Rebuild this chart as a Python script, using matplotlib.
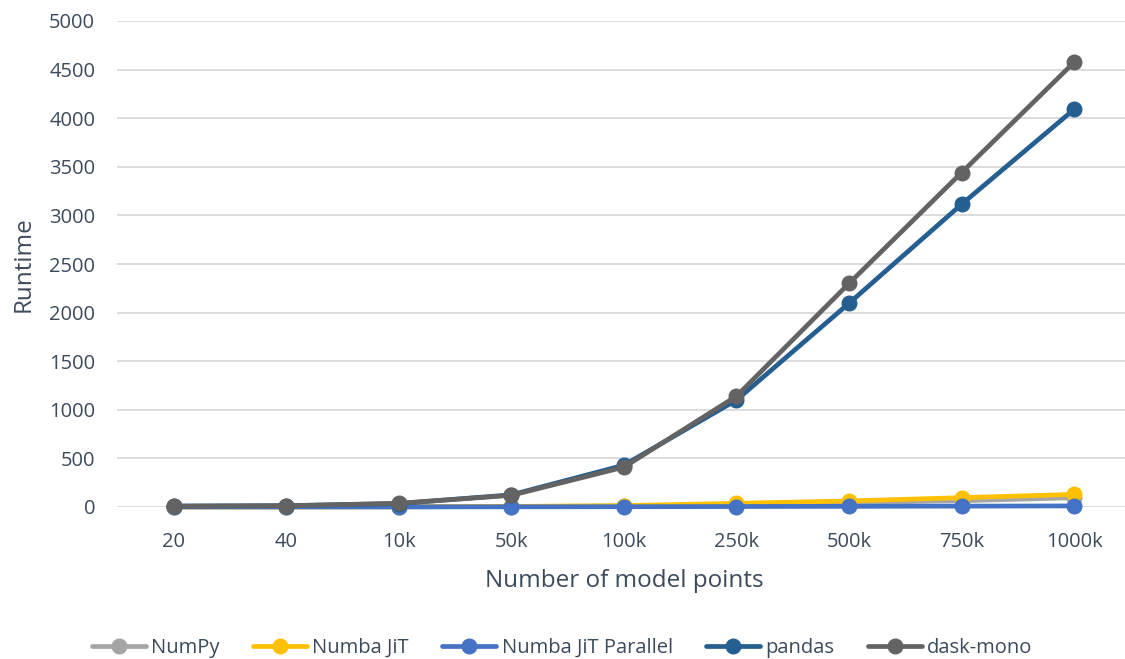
import matplotlib
matplotlib.use("Agg")
import matplotlib.pyplot as plt

categories = ["20", "40", "10k", "50k", "100k", "250k", "500k", "750k", "1000k"]
numpy_rt = [1, 1, 2, 5, 10, 25, 45, 65, 95]
numba_jit = [1, 1, 2, 6, 14, 38, 62, 96, 130]
numba_par = [1, 1, 1, 2, 3, 5, 7, 9, 11]
pandas_rt = [10, 14, 35, 125, 430, 1100, 2096, 3114, 4091]
dask_mono = [8, 12, 38, 120, 410, 1140, 2300, 3440, 4575]

series = [
    ("NumPy", numpy_rt, "#A5A5A5"),
    ("Numba JiT", numba_jit, "#FFC000"),
    ("Numba JiT Parallel", numba_par, "#4472C4"),
    ("pandas", pandas_rt, "#255E91"),
    ("dask-mono", dask_mono, "#636363"),
]

text_color = "#3C4A5C"
W, H = 1125, 659
fig = plt.figure(figsize=(W / 100, H / 100), dpi=100)
left_px, right_px, top_px, bottom_px = 117.4, 1130.4, 21, 507
ax = fig.add_axes([left_px / W, 1 - bottom_px / H,
                   (right_px - left_px) / W, (bottom_px - top_px) / H])

x = list(range(len(categories)))
for name, vals, color in series:
    ax.plot(x, vals, color=color, lw=3.4, marker="o", ms=10.5,
            label=name, solid_capstyle="round", clip_on=False)

ax.set_xlim(-0.5, len(categories) - 0.5)
ax.set_ylim(0, 5000)
ax.set_yticks(range(0, 5001, 500))
ax.set_xticks(x)
ax.set_xticklabels(categories)
ax.yaxis.grid(True, color="#D9D9D9", lw=1.3)
ax.set_axisbelow(True)
for s in ax.spines.values():
    s.set_visible(False)
ax.tick_params(axis="both", length=0, labelsize=14.5, colors=text_color,
               labelfontfamily="Open Sans")
ax.tick_params(axis="y", pad=16)
ax.tick_params(axis="x", pad=18)

ax.set_xlabel("Number of model points", fontsize=17.5, color=text_color,
              family="Open Sans", labelpad=12)
ax.set_ylabel("Runtime", fontsize=17.5, color=text_color,
              family="Open Sans")
ax.yaxis.set_label_coords((36 - left_px) / (right_px - left_px), 0.5)

handles, labels = ax.get_legend_handles_labels()
fig.legend(handles, labels, loc="center", bbox_to_anchor=(562 / W, 1 - 648 / H),
           ncol=5, frameon=False, handlelength=2.7, handletextpad=0.25,
           columnspacing=1.65, borderaxespad=0,
           prop={"family": "Open Sans", "size": 14.5}, labelcolor=text_color)

fig.savefig("out.png", dpi=100)
